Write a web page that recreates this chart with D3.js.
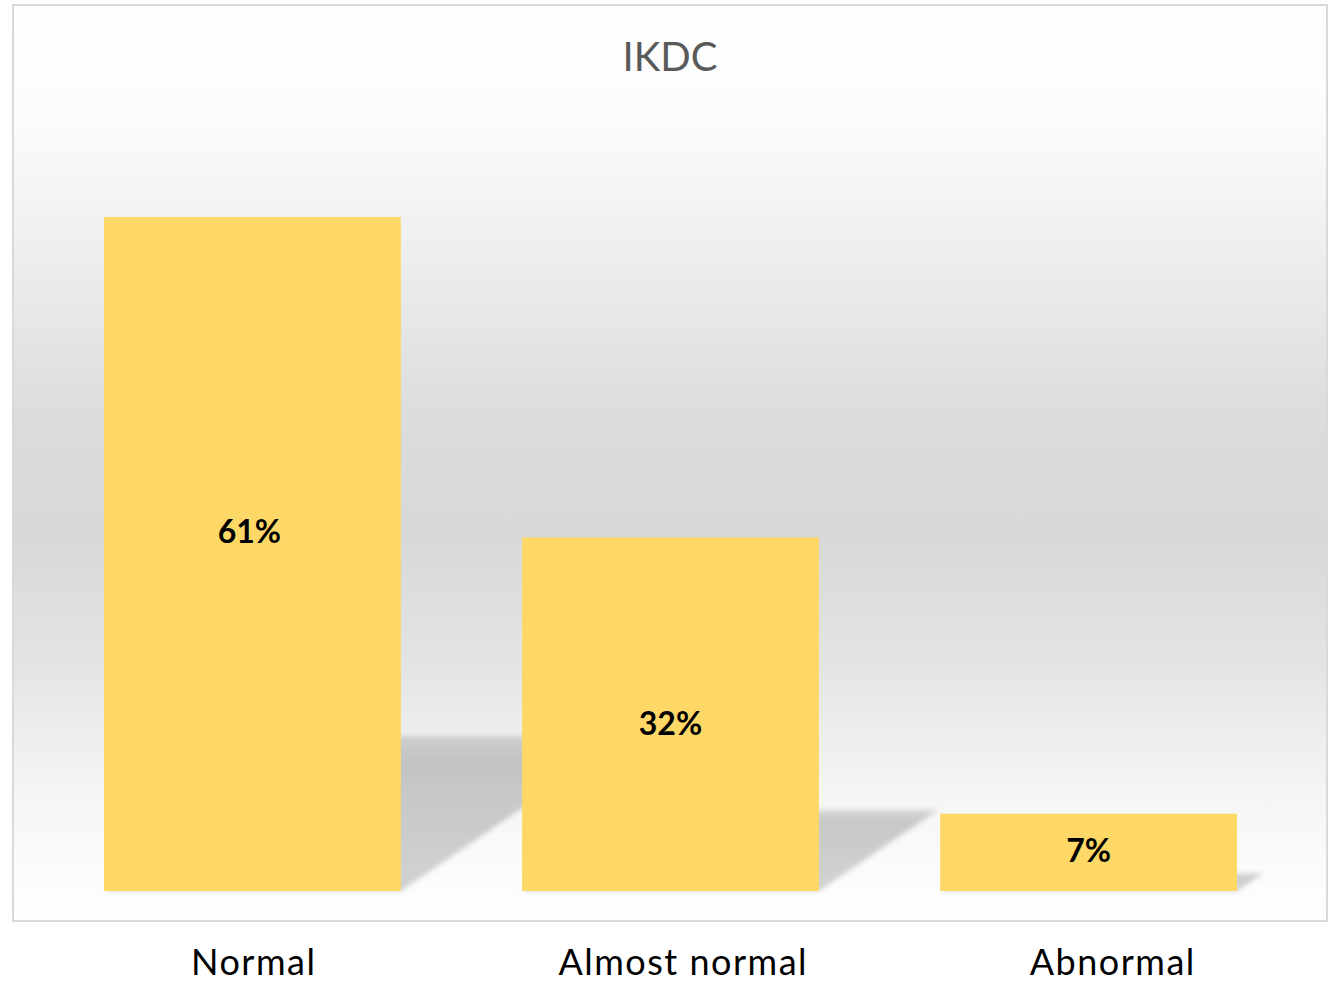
<!DOCTYPE html>
<html>
<head>
<meta charset="utf-8">
<script src="https://cdn.jsdelivr.net/npm/d3@7"></script>
<style>
  html, body { margin: 0; padding: 0; background: #ffffff; }
  svg { display: block; }
</style>
</head>
<body>
<svg id="chart" width="1334" height="982"></svg>
<script>
// ---- data ----
const title = "IKDC";
const categories = ["Normal", "Almost normal", "Abnormal"];
const values = [61, 32, 7];
const valueLabels = ["61%", "32%", "7%"];

// ---- layout ----
const W = 1334, H = 982;
const frame = { x0: 13, y0: 5, x1: 1327, y1: 921 };
const baseY = 891;

const svg = d3.select("#chart");
const defs = svg.append("defs");

// background gradient
const grad = defs.append("linearGradient")
  .attr("id", "bgGrad").attr("x1", 0).attr("y1", 0).attr("x2", 0).attr("y2", 1);
[[0, "#ffffff"], [0.12, "#fcfcfc"], [0.27, "#eeeeee"], [0.45, "#dcdcdc"],
 [0.58, "#d8d8d8"], [0.72, "#e4e4e4"], [0.86, "#f5f5f5"], [1, "#ffffff"]]
  .forEach(([o, c]) => grad.append("stop").attr("offset", o).attr("stop-color", c));

// shadow blur
const f = defs.append("filter").attr("id", "shBlur")
  .attr("x", "-20%").attr("y", "-20%").attr("width", "140%").attr("height", "140%");
f.append("feGaussianBlur").attr("stdDeviation", 2.5);

// shadow vertical fade
const sg = defs.append("linearGradient")
  .attr("id", "shGrad").attr("x1", 0).attr("y1", 0).attr("x2", 0).attr("y2", 1);
sg.append("stop").attr("offset", 0).attr("stop-color", "#000").attr("stop-opacity", 0.13);
sg.append("stop").attr("offset", 0.15).attr("stop-color", "#000").attr("stop-opacity", 0.19);
sg.append("stop").attr("offset", 1).attr("stop-color", "#000").attr("stop-opacity", 0.17);

defs.append("clipPath").attr("id", "plotClip").append("rect")
  .attr("x", frame.x0).attr("y", frame.y0)
  .attr("width", frame.x1 - frame.x0).attr("height", frame.y1 - frame.y0);

// frame
svg.append("rect")
  .attr("x", frame.x0).attr("y", frame.y0)
  .attr("width", frame.x1 - frame.x0).attr("height", frame.y1 - frame.y0)
  .attr("fill", "url(#bgGrad)")
  .attr("stroke", "#d9d9d9").attr("stroke-width", 2);

// scales
const x = d3.scaleBand().domain(categories).range([104, 1237]).paddingInner(0.29).paddingOuter(0);
const y = d3.scaleLinear().domain([0, 61]).range([baseY, 217]);
const xLabel = d3.scaleBand().domain(categories).range([39, 1327.5]);

// shadows
const shK = 0.23, shS = 1.47;
svg.append("g").attr("clip-path", "url(#plotClip)")
  .selectAll("path").data(values).join("path")
  .attr("d", (v, i) => {
    const x0 = x(categories[i]), x1 = x0 + x.bandwidth();
    const h = (baseY - y(v)) * shK;
    const dx = h * shS;
    return `M${x0},${baseY} L${x1},${baseY} L${x1 + dx},${baseY - h} L${x0 + dx},${baseY - h} Z`;
  })
  .attr("fill", "url(#shGrad)")
  .attr("filter", "url(#shBlur)");

// bars
svg.append("g").selectAll("rect").data(values).join("rect")
  .attr("x", (v, i) => x(categories[i]))
  .attr("y", v => y(v))
  .attr("width", x.bandwidth())
  .attr("height", v => baseY - y(v))
  .attr("fill", "#fdd866");

// value labels
const nudgeY = [-24, 8, -3];
const nudgeX = [-3, 0, 0];
svg.append("g").selectAll("text").data(values).join("text")
  .attr("x", (v, i) => x(categories[i]) + x.bandwidth() / 2 + nudgeX[i])
  .attr("y", (v, i) => (y(v) + baseY) / 2 + nudgeY[i])
  .attr("text-anchor", "middle")
  .attr("dominant-baseline", "central")
  .attr("font-family", "Lato, 'Open Sans', sans-serif")
  .attr("font-weight", "bold")
  .attr("font-size", 32)
  .attr("fill", "#000")
  .text((v, i) => valueLabels[i]);

// title
svg.append("text")
  .attr("x", (frame.x0 + frame.x1) / 2)
  .attr("y", 71)
  .attr("text-anchor", "middle")
  .attr("font-family", "Lato, 'Open Sans', sans-serif")
  .attr("font-size", 40)
  .attr("fill", "#595959")
  .text(title);

// category labels
svg.append("g").selectAll("text").data(categories).join("text")
  .attr("x", d => xLabel(d) + xLabel.bandwidth() / 2)
  .attr("y", 975)
  .attr("text-anchor", "middle")
  .attr("font-family", "Lato, 'Open Sans', sans-serif")
  .attr("font-size", 36)
  .attr("letter-spacing", 1.5)
  .attr("fill", "#000")
  .text(d => d);
</script>
</body>
</html>
